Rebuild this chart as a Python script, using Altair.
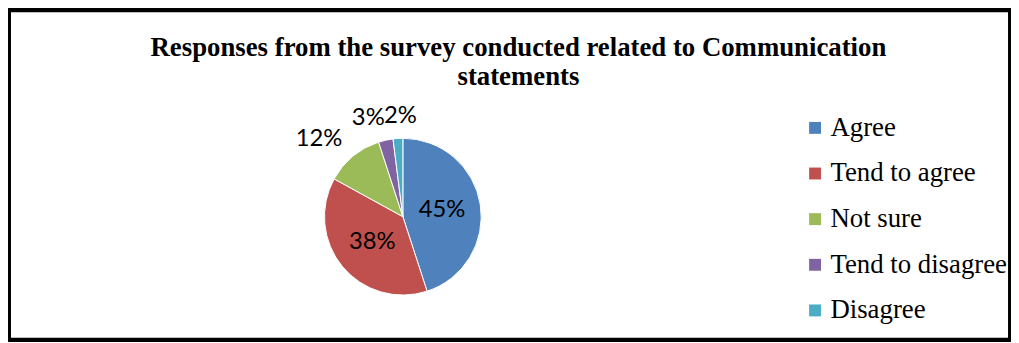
import altair as alt
import pandas as pd

categories = ["Agree", "Tend to agree", "Not sure", "Tend to disagree", "Disagree"]
values = [45, 38, 12, 3, 2]
colors = ["#4F81BD", "#C0504D", "#9BBB59", "#8064A2", "#4BACC6"]
title_lines = ["Responses from the survey conducted related to Communication", "statements"]

df = pd.DataFrame({
    "category": categories,
    "value": values,
    "order": list(range(len(categories))),
    "label": [f"{v}%" for v in values],
})

W, H = 1011, 334
CX, CY = 398, 209
R = 79

theta_scale = alt.Scale(domain=[0, 100])

base = (
    alt.Chart(df)
    .transform_stack(stack="value", groupby=[], as_=["v0", "v1"], sort=[alt.SortField("order")])
    .transform_calculate(mid="(datum.v0 + datum.v1) / 2")
)

pie = base.mark_arc(outerRadius=R, stroke="white", strokeWidth=1).encode(
    theta=alt.Theta("v0:Q", scale=theta_scale),
    theta2="v1:Q",
    x=alt.value(CX),
    y=alt.value(CY),
    color=alt.Color(
        "category:N",
        scale=alt.Scale(domain=categories, range=colors),
        sort=categories,
        legend=alt.Legend(
            orient="none",
            legendX=800,
            legendY=106,
            title=None,
            symbolType="square",
            symbolSize=144,
            symbolStrokeWidth=0,
            labelFont="Liberation Serif",
            labelFontSize=27,
            labelColor="black",
            labelOffset=2,
            rowPadding=18,
            labelLimit=400,
        ),
    ),
)


def label_layer(filter_expr, radius, align="center", dx=0):
    return base.transform_filter(filter_expr).mark_text(
        radius=radius, font="Lato", fontSize=24, color="black", align=align, dx=dx
    ).encode(
        theta=alt.Theta("mid:Q", scale=theta_scale),
        x=alt.value(CX),
        y=alt.value(CY),
        text="label:N",
    )


inner = label_layer("datum.value >= 20", 40)
outer_right = label_layer("datum.value < 20 && datum.value >= 3", 102, align="right", dx=4)
outer_small = label_layer("datum.value < 3", 102, align="center", dx=4)

chart = (
    alt.layer(pie, inner, outer_right, outer_small)
    .properties(
        width=W,
        height=H,
        autosize=alt.AutoSizeParams(type="none"),
        padding=0,
        title=alt.Title(
            title_lines,
            anchor="middle",
            offset=-82,
            baseline="top",
            font="Liberation Serif",
            fontSize=27,
            fontWeight="bold",
            color="black",
            lineHeight=29,
            dx=9,
        ),
    )
    .configure_view(stroke="black", strokeWidth=6)
)

chart.save("out.html", embed_options={"renderer": "svg", "actions": False})
